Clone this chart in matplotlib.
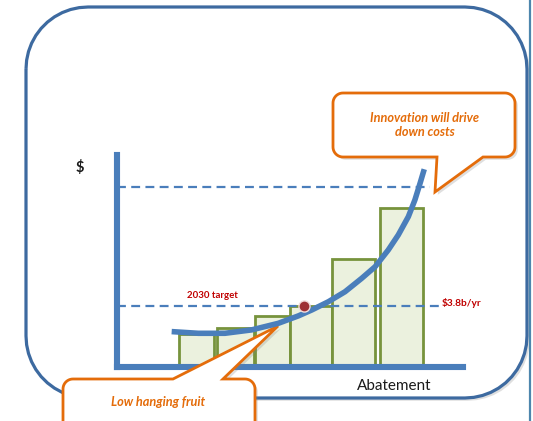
import numpy as np
import matplotlib.pyplot as plt
import matplotlib.transforms as mtransforms
import matplotlib.patheffects as pe
from matplotlib.path import Path
from matplotlib.patches import PathPatch

# abatement cost bars (abatement units / $ index)
bar_left = [18, 29, 40, 50, 62, 76]
bar_width = [10, 10.5, 10, 12, 12.5, 12.5]
bar_height = [15.5, 18.5, 24, 29, 51, 75]

# marginal cost curve
curve_x = [15.8, 23.5, 31.2, 38.9, 46.6, 52.4, 56.3, 61.1, 65.9, 70.7,
           74.6, 78.4, 81.3, 84.2, 86.1, 87.6, 88.8]
curve_y = [16.7, 15.9, 15.9, 17.5, 20.6, 24.1, 26.9, 30.8, 35.5, 41.8,
           47.3, 55.2, 62.3, 70.9, 78.8, 86.7, 93.3]

# 2030 target point and reference levels
target_x = 54
target_y = 29
target_end = 93.5
upper_y = 85
upper_end = 90.5

BLUE = '#4a7ebb'
ORANGE = '#e46c0a'
RED = '#c00000'

W, H = 533, 421
fig = plt.figure(figsize=(W / 100, H / 100), dpi=100)
fig.patch.set_facecolor('white')
ax = fig.add_axes([117 / W, (H - 367) / H, 346 / W, 212 / H])
ax.patch.set_visible(False)
ax.set_xlim(0, 100)
ax.set_ylim(0, 100)
ax.set_xticks([])
ax.set_yticks([])
for s in ['top', 'right']:
    ax.spines[s].set_visible(False)
for s in ['left', 'bottom']:
    ax.spines[s].set_color(BLUE)
    ax.spines[s].set_linewidth(4.4)
    ax.spines[s].set_zorder(2.5)

# pixel space of the whole slide, y pointing down
pix = mtransforms.Affine2D().scale(1 / W, -1 / H).translate(0, 1) + fig.transFigure


def callout(x0, y0, x1, y1, r, side, base_a, base_b, tip):
    # rounded box with a pointer leaving the top or bottom edge
    def arc(cx, cy, a0, a1):
        t = np.radians(np.linspace(a0, a1, 12))
        return list(zip(cx + r * np.cos(t), cy + r * np.sin(t)))

    pts = []
    pts += [(x0 + r, y0)]
    if side == 'top':
        pts += [(base_a, y0), tip, (base_b, y0)]
    pts += [(x1 - r, y0)]
    pts += arc(x1 - r, y0 + r, -90, 0)
    pts += [(x1, y1 - r)]
    pts += arc(x1 - r, y1 - r, 0, 90)
    if side == 'bottom':
        pts += [(base_b, y1), tip, (base_a, y1)]
    pts += [(x0 + r, y1)]
    pts += arc(x0 + r, y1 - r, 90, 180)
    pts += [(x0, y0 + r)]
    pts += arc(x0 + r, y0 + r, 180, 270)
    pts.append(pts[0])
    return Path(pts, closed=True)


shadow = [pe.SimplePatchShadow(offset=(2, -2), alpha=0.25, shadow_rgbFace='#808080'), pe.Normal()]

# slide frame
frame = callout(26, 7, 527, 398, 62, None, 0, 0, (0, 0))
ax.add_patch(PathPatch(frame, transform=pix, facecolor='white', edgecolor='#3d6aa0',
                       lw=2.3, zorder=0, clip_on=False, path_effects=shadow))
ax.plot([530, 530], [0, H], transform=pix, color='#4d86ad', lw=1.6, clip_on=False, zorder=0.5)

# bars
ax.bar(bar_left, bar_height, width=bar_width, align='edge', color='#ebf1de',
       edgecolor='#77933c', linewidth=2, zorder=2)

# reference levels
ax.plot([0, upper_end], [upper_y, upper_y], color=BLUE, lw=1.6,
        linestyle=(0, (4, 2.4)), zorder=2.2)
ax.plot([0, target_end], [target_y, target_y], color=BLUE, lw=1.6,
        linestyle=(0, (4, 2.4)), zorder=2.2)

# cost curve and target point
ax.plot(curve_x, curve_y, color=BLUE, lw=4, solid_capstyle='butt',
        solid_joinstyle='round', zorder=4, clip_on=False)
ax.plot([target_x], [target_y], 'o', ms=8, color='#9e3034', mec='#f2dcdb', mew=1, zorder=4.5)

ax.text(27.7, 33.5, '2030 target', color=RED, fontsize=6.9, ha='center', va='center',
        family='Lato', fontweight='bold', zorder=5)
ax.text(93.8, 30.2, '$3.8b/yr', color=RED, fontsize=7.3, ha='left', va='center',
        family='Lato', fontweight='bold', zorder=5, clip_on=False)

ax.text(80, 168, '$', transform=pix, fontsize=10.5, fontweight='bold', family='Lato',
        ha='center', va='center', color='#1a1a1a')
ax.text(394, 386, 'Abatement', transform=pix, fontsize=11, family='Lato',
        ha='center', va='center', color='#1a1a1a')

# callouts
c1 = callout(333, 93, 515, 157, 10, 'bottom', 437, 483, (435, 192))
ax.add_patch(PathPatch(c1, transform=pix, facecolor='white', edgecolor=ORANGE,
                       lw=2, zorder=6, clip_on=False, path_effects=shadow))
ax.text(425, 125, 'Innovation will drive\ndown costs', transform=pix, color=ORANGE,
        fontsize=9.2, fontweight='bold', fontstyle='italic', family='Lato',
        ha='center', va='center', linespacing=1.3, zorder=7)

c2 = callout(63, 379, 255, 450, 10, 'top', 173, 223, (278, 326))
ax.add_patch(PathPatch(c2, transform=pix, facecolor='white', edgecolor=ORANGE,
                       lw=2, zorder=3, clip_on=False, path_effects=shadow))
ax.text(158, 402, 'Low hanging fruit', transform=pix, color=ORANGE,
        fontsize=9.2, fontweight='bold', fontstyle='italic', family='Lato',
        ha='center', va='center', zorder=7)

fig.savefig('out.png', dpi=100)
